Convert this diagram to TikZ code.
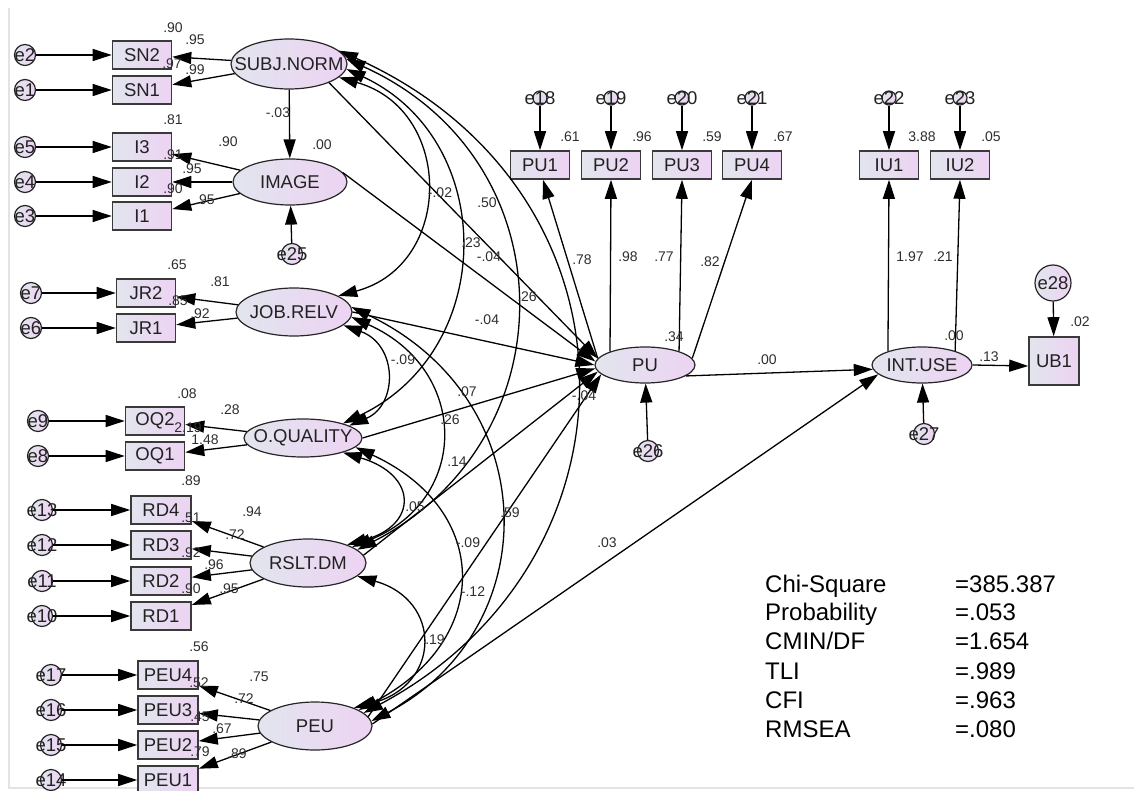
\documentclass[tikz,border=0pt]{standalone}
\usepackage{fontspec}
\setmainfont{Liberation Sans}
\usetikzlibrary{arrows.meta,shapes.geometric}
\definecolor{fillL}{HTML}{E2E5EE}
\definecolor{fillR}{HTML}{EDD3F3}
\definecolor{edgeC}{HTML}{3A3A3A}
\definecolor{numC}{HTML}{2E2E2E}
\definecolor{txtC}{HTML}{222222}
\tikzset{
 obs/.style={draw=edgeC, line width=1.6pt, left color=fillL, right color=fillR, minimum width=59pt, minimum height=28pt, inner sep=0pt, font=\fontsize{18.5}{20}\selectfont, text=txtC},
 lat/.style={ellipse, draw=black!85, line width=1.2pt, left color=fillL, right color=fillR, inner sep=0pt},
 lattxt/.style={font=\fontsize{18.5}{20}\selectfont, text=txtC, inner sep=0pt},
 err/.style={circle, draw=black!85, line width=1.2pt, left color=fillL, right color=fillR, minimum size=21pt, inner sep=0pt},
 errs/.style={err, minimum size=14pt},
 errtxt/.style={font=\fontsize{18.5}{20}\selectfont, text=txtC, inner sep=0pt},
 num/.style={font=\fontsize{14}{15}\selectfont, text=numC, inner sep=0pt},
 reg/.style={line width=1.3pt, ->},
 cov/.style={line width=1.3pt, <->},
 stat/.style={font=\fontsize{24}{26}\selectfont, anchor=base west, inner sep=0pt, text=black},
}
\begin{document}
\begin{tikzpicture}[x=1pt,y=-1pt,>={Triangle[length=19pt,width=12pt]}]
\path[use as bounding box] (0,0) rectangle (1134,791);
\draw[gray!22, line width=1.5pt] (9,8) -- (9,788) -- (1134,788);

% latent variables
\node[lat, minimum width=116pt, minimum height=50pt, label={[lattxt]center:SUBJ.NORM}] (SN) at (289,64) {};
\node[lat, minimum width=114pt, minimum height=46pt, label={[lattxt]center:IMAGE}] (IM) at (290,182) {};
\node[lat, minimum width=116pt, minimum height=48pt, label={[lattxt]center:JOB.RELV}] (JR) at (294,312) {};
\node[lat, minimum width=118pt, minimum height=38pt, label={[lattxt]center:O.QUALITY}] (OQ) at (303,438) {};
\node[lat, minimum width=116pt, minimum height=48pt, label={[lattxt]center:RSLT.DM}] (RD) at (308,563) {};
\node[lat, minimum width=114pt, minimum height=48pt, label={[lattxt]center:PEU}] (PEU) at (315,726) {};
\node[lat, minimum width=100pt, minimum height=36pt, label={[lattxt]center:PU}] (PU) at (645,365) {};
\node[lat, minimum width=100pt, minimum height=36pt, label={[lattxt]center:INT.USE}] (IU) at (922,365) {};

% observed variables
\node[obs] (SN2) at (142,55) {SN2};
\node[obs] (SN1) at (142,90) {SN1};
\node[obs] (I3) at (142,147) {I3};
\node[obs] (I2) at (142,182) {I2};
\node[obs] (I1) at (142,216) {I1};
\node[obs] (JR2) at (146,293) {JR2};
\node[obs] (JR1) at (146,328) {JR1};
\node[obs] (OQ2) at (155,421) {OQ2};
\node[obs] (OQ1) at (155,456) {OQ1};
\node[obs, minimum width=60pt] (RD4) at (161,510) {RD4};
\node[obs, minimum width=60pt] (RD3) at (161,545) {RD3};
\node[obs, minimum width=60pt] (RD2) at (161,581) {RD2};
\node[obs, minimum width=60pt] (RD1) at (161,616) {RD1};
\node[obs, minimum width=60pt] (PEU4) at (168,675) {PEU4};
\node[obs, minimum width=60pt] (PEU3) at (168,710) {PEU3};
\node[obs, minimum width=60pt] (PEU2) at (168,745) {PEU2};
\node[obs, minimum width=60pt] (PEU1) at (168,780) {PEU1};
\node[obs] (PU1) at (540,165) {PU1};
\node[obs] (PU2) at (611,165) {PU2};
\node[obs] (PU3) at (682,165) {PU3};
\node[obs] (PU4) at (752,165) {PU4};
\node[obs] (IU1) at (889,165) {IU1};
\node[obs] (IU2) at (960,165) {IU2};
\node[obs, minimum width=50pt, minimum height=48pt] (UB1) at (1054,361) {UB1};

% error terms
\foreach \nm/\px/\py in {e2/25/55, e1/25/90, e5/25/147, e4/25/182, e3/25/216, e7/31/293, e6/31/328, e9/38/421, e8/38/456, e13/42/510, e12/42/545, e11/42/581, e10/42/616, e17/51/675, e16/51/710, e15/51/745, e14/51/780, e25/292/254, e26/648/451, e27/924/434}
  \node[err, label={[errtxt]center:\nm}] (\nm) at (\px,\py) {};
\node[err, minimum size=36pt, label={[errtxt]center:e28}] (e28) at (1053,283) {};
\foreach \nm/\px in {e18/540, e19/611, e20/682, e21/752, e22/889, e23/960}
  \node[errs, label={[errtxt]center:\nm}] (\nm) at (\px,98) {};

% error arrows
\foreach \a/\b in {e2/SN2, e1/SN1, e5/I3, e4/I2, e3/I1, e7/JR2, e6/JR1, e9/OQ2, e8/OQ1, e13/RD4, e12/RD3, e11/RD2, e10/RD1, e17/PEU4, e16/PEU3, e15/PEU2, e14/PEU1, e18/PU1, e19/PU2, e20/PU3, e21/PU4, e22/IU1, e23/IU2, e25/IM, e26/PU, e27/IU, e28/UB1}
  \draw[reg] (\a) -- (\b);

% loadings
\foreach \a/\b in {SN/SN2, SN/SN1, IM/I3, IM/I2, IM/I1, JR/JR2, JR/JR1, OQ/OQ2, OQ/OQ1, RD/RD4, RD/RD3, RD/RD2, RD/RD1, PEU/PEU4, PEU/PEU3, PEU/PEU2, PEU/PEU1}
  \draw[reg] (\a) -- (\b);
\draw[reg] (PU.172) -- ([xshift=3pt]PU1.south);
\draw[reg] (PU.159) -- (PU2.south);
\draw[reg] (PU.22) -- (PU3.south);
\draw[reg] (PU.8) -- (PU4.south);
\draw[reg] (IU.158) -- (IU1.south);
\draw[reg] (IU.23) -- (IU2.south);

% structural paths
\draw[reg] (SN) -- (IM);
\draw[reg] (SN.-25) -- (PU.172);
\draw[reg] (IM.10) -- (PU.176);
\draw[reg] (JR.0) -- (PU.180);
\draw[reg] (OQ.0) -- (PU.184);
\draw[reg] (RD.8) -- (PU.188);
\draw[reg] (PEU.10) -- (PU.192);
\draw[reg] (PU.-15) -- (IU.185);
\draw[reg] (PEU.2) -- (IU.192);
\draw[reg] (IU.east) -- ([yshift=-5pt]UB1.west);

% covariances
\draw[cov] (SN.-15) .. controls (454,110) and (454,265) .. (JR.20);
\draw[cov] (SN.-5) .. controls (498,140) and (498,350) .. (OQ.20);
\draw[cov] (SN.5) .. controls (570,160) and (570,440) .. (RD.15);
\draw[cov] (SN.15) .. controls (650,190) and (650,560) .. (PEU.15);
\draw[cov] (JR.-15) .. controls (398,345) and (398,405) .. (OQ.15);
\draw[cov] (JR.-5) .. controls (470,370) and (470,500) .. (RD.20);
\draw[cov] (JR.5) .. controls (546,400) and (546,630) .. (PEU.5);
\draw[cov] (OQ.-20) .. controls (418,475) and (418,525) .. (RD.25);
\draw[cov] (OQ.-10) .. controls (492,510) and (492,640) .. (PEU.20);
\draw[cov] (RD.-15) .. controls (442,600) and (442,685) .. (PEU.25);

% estimates
\foreach \px/\py/\t [count=\i] in {
 173/28/.90, 195/40/.95, 172/64/.97, 195/70/.99,
 173/120/.81, 228/142/.90, 173/155/.91, 192/169/.95, 173/189/.90, 205/200/.95, 278/113/-.03, 322/145/.00,
 177/265/.65, 220/282/.81, 178/301/.85, 200/314/.92,
 187/394/.08, 230/410/.28, 188/428/2.19, 205/440/1.48,
 191/481/.89, 252/512/.94, 191/518/.51, 235/535/.72, 191/553/.92, 214/565/.96, 191/589/.90, 229/589/.95,
 199/647/.56, 259/677/.75, 199/683/.52, 244/699/.72, 200/717/.45, 222/729/.67, 200/752/.79, 237/754/.89,
 440/193/-.02, 487/203/.50, 471/243/.23, 489/257/-.04, 527/297/.26, 487/320/-.04, 403/360/-.09, 467/392/.07,
 450/420/.26, 457/462/.14, 415/507/.05, 510/513/.59, 468/543/-.09, 473/592/-.12, 435/640/.19, 607/543/.03, 584/396/-.04,
 582/260/.78, 628/257/.98, 664/257/.77, 710/262/.82, 674/337/.34,
 570/137/.61, 642/137/.96, 712/137/.59, 783/137/.67,
 767/360/.00, 910/257/1.97, 943/257/.21, 922/137/3.88, 991/137/.05, 954/336/.00, 989/357/.13, 1080/322/.02}
  \node[num] (v\i) at (\px,\py) {\t};

% fit statistics
\node[stat] (s1) at (765,592) {Chi-Square};
\node[stat] (s2) at (765,620) {Probability};
\node[stat] (s3) at (765,649) {CMIN/DF};
\node[stat] (s4) at (765,679) {TLI};
\node[stat] (s5) at (765,708) {CFI};
\node[stat] (s6) at (765,737) {RMSEA};
\node[stat] (t1) at (955,592) {=385.387};
\node[stat] (t2) at (955,620) {=.053};
\node[stat] (t3) at (955,649) {=1.654};
\node[stat] (t4) at (955,679) {=.989};
\node[stat] (t5) at (955,708) {=.963};
\node[stat] (t6) at (955,737) {=.080};
\end{tikzpicture}
\end{document}
